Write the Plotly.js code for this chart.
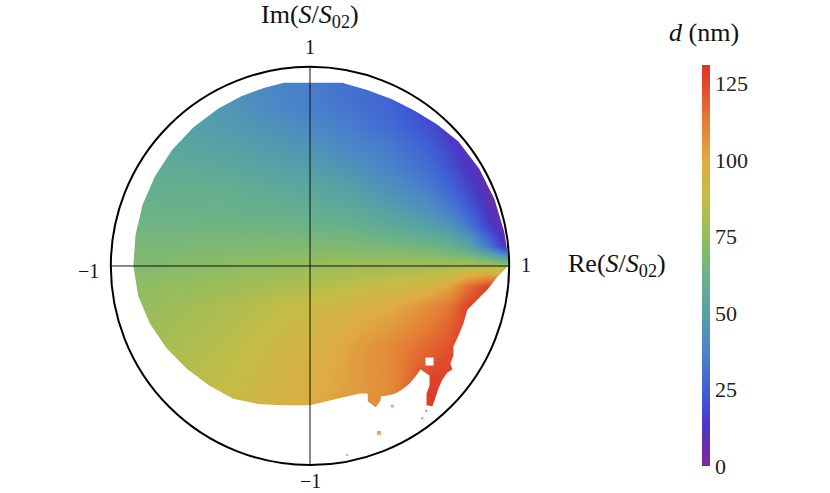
<!DOCTYPE html>
<html>
<head>
<meta charset="utf-8">
<script src="https://cdn.plot.ly/plotly-3.0.1.min.js"></script>
<style>
  body { margin: 0; background: #fff; }
  #plot { width: 830px; height: 493px; }
</style>
</head>
<body>
<div id="plot"></div>
<script>
// thickness d (nm) on a coarse lattice, x = Re(S/S02), y = Im(S/S02)
const gridX = [-1, -0.8, -0.6, -0.4, -0.2, 0, 0.2, 0.4, 0.6, 0.8, 1];
const gridY = [1, 0.8, 0.6, 0.4, 0.2, 0, -0.2, -0.4, -0.6, -0.8, -1];
const dRows = [
  [48, 46, 43, 40, 37, 34, 30, 25, 16, 8, 2],
  [52, 50, 47, 45, 40, 36, 32, 27, 16, 6, 2],
  [55, 54, 52, 50, 47, 44, 39, 34, 25, 9, 2],
  [60, 59, 59, 58, 55, 53, 49, 42, 34, 17, 2],
  [64, 64, 64, 64, 64, 63, 61, 56, 49, 34, 2],
  [70, 70, 72, 73, 75, 76, 78, 79, 80, 82, 80],
  [75, 76, 79, 82, 86, 90, 95, 99, 108, 127, 130],
  [79, 80, 82, 86, 91, 95, 102, 109, 118, 131, 131],
  [84, 85, 86, 88, 93, 97, 103, 108, 128, 131, 131],
  [88, 89, 91, 94, 98, 102, 106, 112, 129, 131, 131],
  [90, 92, 94, 97, 101, 105, 110, 116, 129, 131, 131]
];

// extra readings near the point (1, 0) where every thickness meets
const tipX = [0.9, 0.9, 0.9, 0.9, 0.9, 0.9, 0.9, 1, 1, 0.8, 0.8, 0.7, 0.8];
const tipY = [0.4, 0.3, 0.2, 0.1, 0, -0.1, -0.2, 0.1, -0.1, 0.1, -0.1, 0.7, 0.5];
const tipD = [6, 9, 16, 33, 82, 127, 130, 6, 130, 52, 116, 12, 11];

// outline of the filled region, counter-clockwise from (1, 0)
const edgeX = [1, 0.997, 0.975, 0.926, 0.849, 0.745, 0.639, 0.526, 0.409, 0.287, 0.162,
  -0.13, -0.224, -0.345, -0.458, -0.585, -0.693, -0.779, -0.841, -0.876, -0.887,
  -0.862, -0.803, -0.719, -0.617, -0.505, -0.385, -0.253, -0.123, 0,
  0.12, 0.25, 0.29, 0.29, 0.33, 0.355, 0.355, 0.39, 0.43, 0.47, 0.5, 0.53, 0.555,
  0.6, 0.6, 0.585, 0.585, 0.615, 0.63, 0.645, 0.665, 0.69, 0.715, 0.705, 0.72, 0.72,
  0.745, 0.77, 0.79, 0.84, 0.89, 0.94, 0.99, 1];
const edgeY = [0, 0.035, 0.172, 0.337, 0.49, 0.625, 0.71, 0.779, 0.838, 0.884, 0.92,
  0.92, 0.897, 0.853, 0.792, 0.697, 0.582, 0.45, 0.306, 0.155, 0,
  -0.152, -0.292, -0.415, -0.517, -0.601, -0.667, -0.695, -0.699, -0.7,
  -0.67, -0.64, -0.64, -0.68, -0.71, -0.675, -0.655, -0.65, -0.64, -0.615, -0.59, -0.555, -0.52,
  -0.55, -0.6, -0.64, -0.7, -0.705, -0.66, -0.615, -0.57, -0.535, -0.52, -0.49, -0.45, -0.405,
  -0.35, -0.29, -0.22, -0.17, -0.12, -0.055, -0.005, 0];

// stray cells below the region and a hole inside it
const dotX = [0.413, 0.346, 0.187, 0.564, 0.584];
const dotY = [-0.704, -0.838, -0.95, -0.765, -0.727];
const dotD = [112, 113, 112, 128, 128];
const dotSize = [4, 5, 3, 3, 3];
const holeX = [0.6];
const holeY = [-0.48];

// colour bar
const colorStops = [0, 0.1, 0.19, 0.29, 0.38, 0.48, 0.57, 0.67, 0.76, 0.86, 0.95, 1];
const colorHex = ['#7b2a96', '#4b37c4', '#3f5fd6', '#4a86c8', '#55a2a6', '#6cb386',
  '#93bd5e', '#c2bd46', '#dfab42', '#e47d35', '#e04a2c', '#dd3329'];
const barTicks = [0, 25, 50, 75, 100, 125];
const dMax = 131;

const serif = 'Liberation Serif, DejaVu Serif, serif';
const colorscale = colorStops.map((s, i) => [s, colorHex[i]]);

// flatten the lattice into columns for the heatmap
const colX = [], colY = [], colD = [];
gridY.forEach((y, i) => {
    gridX.forEach((x, j) => {
        colX.push(x);
        colY.push(y);
        colD.push(dRows[i][j]);
    });
});
tipX.forEach((x, k) => {
    colX.push(x);
    colY.push(tipY[k]);
    colD.push(tipD[k]);
});

const field = {
    type: 'heatmap',
    x: colX,
    y: colY,
    z: colD,
    zsmooth: 'best',
    connectgaps: true,
    colorscale: colorscale,
    zmin: 0,
    zmax: dMax,
    hoverinfo: 'skip',
    colorbar: {
        thickness: 8,
        thicknessmode: 'pixels',
        len: 401,
        lenmode: 'pixels',
        xref: 'container',
        x: 702 / 830,
        xanchor: 'left',
        xpad: 0,
        y: 19 / 448,
        yanchor: 'bottom',
        ypad: 0,
        outlinewidth: 0,
        tickvals: barTicks,
        ticks: '',
        tickfont: { family: serif, size: 22, color: '#222' }
    }
};

const holes = {
    type: 'scatter',
    mode: 'markers',
    x: holeX,
    y: holeY,
    marker: { symbol: 'square', size: 8, color: '#fff' },
    hoverinfo: 'skip'
};

// white cover outside the outline: outer square one way, outline the other way
const pad = 1.4;
const maskX = [pad, pad, -pad, -pad, pad, pad].concat(edgeX.slice().reverse(), [pad]);
const maskY = [0, pad, pad, -pad, -pad, 0].concat(edgeY.slice().reverse(), [0]);
const mask = {
    type: 'scatter',
    mode: 'lines',
    x: maskX,
    y: maskY,
    fill: 'toself',
    fillcolor: '#fff',
    line: { width: 0, color: '#fff', simplify: false },
    hoverinfo: 'skip'
};

const dots = {
    type: 'scatter',
    mode: 'markers',
    x: dotX,
    y: dotY,
    marker: {
        symbol: 'square',
        size: dotSize,
        color: dotD,
        colorscale: colorscale,
        cmin: 0,
        cmax: dMax,
        showscale: false
    },
    hoverinfo: 'skip'
};

// text placed in paper units of the plot area
function label(text, x, y, size) {
    return {
        text: text, x: x, y: y, xref: 'paper', yref: 'paper',
        showarrow: false, xanchor: 'center', yanchor: 'middle',
        font: { family: serif, size: size, color: '#111' }
    };
}

const layout = {
    width: 830,
    height: 493,
    margin: { l: 71, r: 281, t: 37, b: 8 },
    paper_bgcolor: '#fff',
    plot_bgcolor: '#fff',
    showlegend: false,
    xaxis: { range: [-1.2, 1.2], visible: false, fixedrange: true },
    yaxis: { range: [-1.1, 1.15], visible: false, fixedrange: true },
    shapes: [
        { type: 'line', x0: -1, x1: 1, y0: 0, y1: 0, line: { color: '#111', width: 1 }, layer: 'above' },
        { type: 'line', x0: 0, x1: 0, y0: -1, y1: 1, line: { color: '#111', width: 1 }, layer: 'above' },
        { type: 'circle', x0: -1, x1: 1, y0: -1, y1: 1, line: { color: '#000', width: 2 }, layer: 'above' }
    ],
    annotations: [
        label('Im(<i>S</i>/<i>S</i><sub>02</sub>)', 0.5, 1.047, 26),
        label('Re(<i>S</i>/<i>S</i><sub>02</sub>)', 1.143, 0.491, 26),
        label('1', 0.5, 0.978, 20),
        label('\u22121', 0.5, 0.01, 20),
        label('\u22121', 0.0356, 0.4777, 20),
        label('1', 0.952, 0.491, 20),
        label('<i>d</i> (nm)', 1.324, 1.009, 26)
    ]
};

Plotly.newPlot('plot', [field, holes, mask, dots], layout, { displayModeBar: false, staticPlot: true });
</script>
</body>
</html>
